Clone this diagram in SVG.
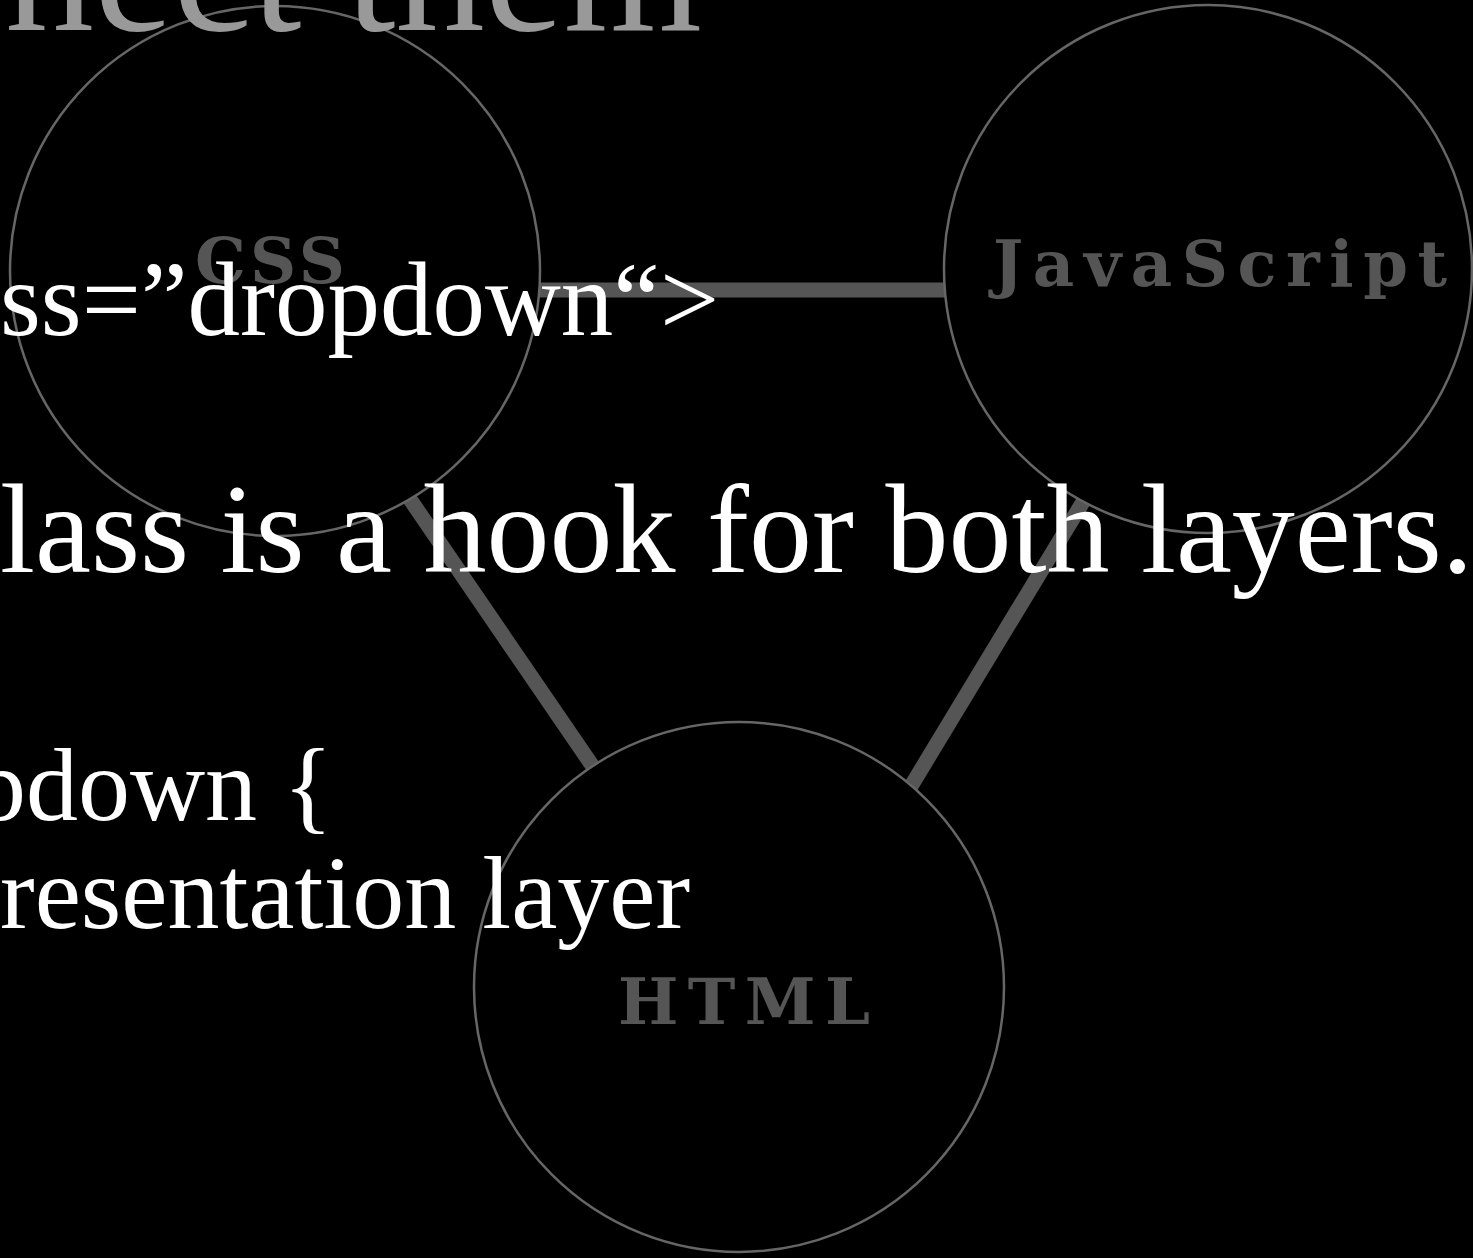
<svg xmlns="http://www.w3.org/2000/svg" width="1473" height="1258" viewBox="0 0 1473 1258">
<style>
.bg{fill:#000}
.conn{stroke:#555;stroke-width:15;stroke-linecap:butt;fill:none}
.ring{fill:#000;stroke:#666;stroke-width:2.5}
.lbl{font-family:"DejaVu Serif","Liberation Serif",serif;font-weight:bold;font-size:64px;fill:#555}
.txt{font-family:"Liberation Serif","Times New Roman",serif;fill:#fff}
.title{font-family:"Liberation Serif","Times New Roman",serif;fill:#999;font-size:178px}
</style>
<rect class="bg" x="0" y="0" width="1473" height="1258"/>
<g id="connectors">
<line class="conn" x1="520" y1="290" x2="965" y2="290"/>
<line class="conn" x1="390" y1="470" x2="611" y2="793"/>
<line class="conn" x1="1089" y1="492" x2="896" y2="811"/>
</g>
<g id="node-css">
<circle class="ring" cx="275" cy="271" r="265"/>
<text class="lbl" x="195" y="283" textLength="150" lengthAdjust="spacing">CSS</text>
</g>
<g id="node-js">
<circle class="ring" cx="1208" cy="269" r="264"/>
<text class="lbl" x="993" y="286" textLength="454" lengthAdjust="spacing">JavaScript</text>
</g>
<g id="node-html">
<circle class="ring" cx="739" cy="987" r="265"/>
<text class="lbl" x="618" y="1024" textLength="252" lengthAdjust="spacing">HTML</text>
</g>
<g id="overlay-text">
<text class="title" x="5" y="30">nect them</text>
<text class="txt" x="0" y="335" font-size="105">ss=”dropdown“&gt;</text>
<text class="txt" x="0" y="572" font-size="126">lass is a hook for both layers.</text>
<text class="txt" x="-26" y="820" font-size="104">pdown {</text>
<text class="txt" x="0" y="928" font-size="104">resentation layer</text>
</g>
</svg>
